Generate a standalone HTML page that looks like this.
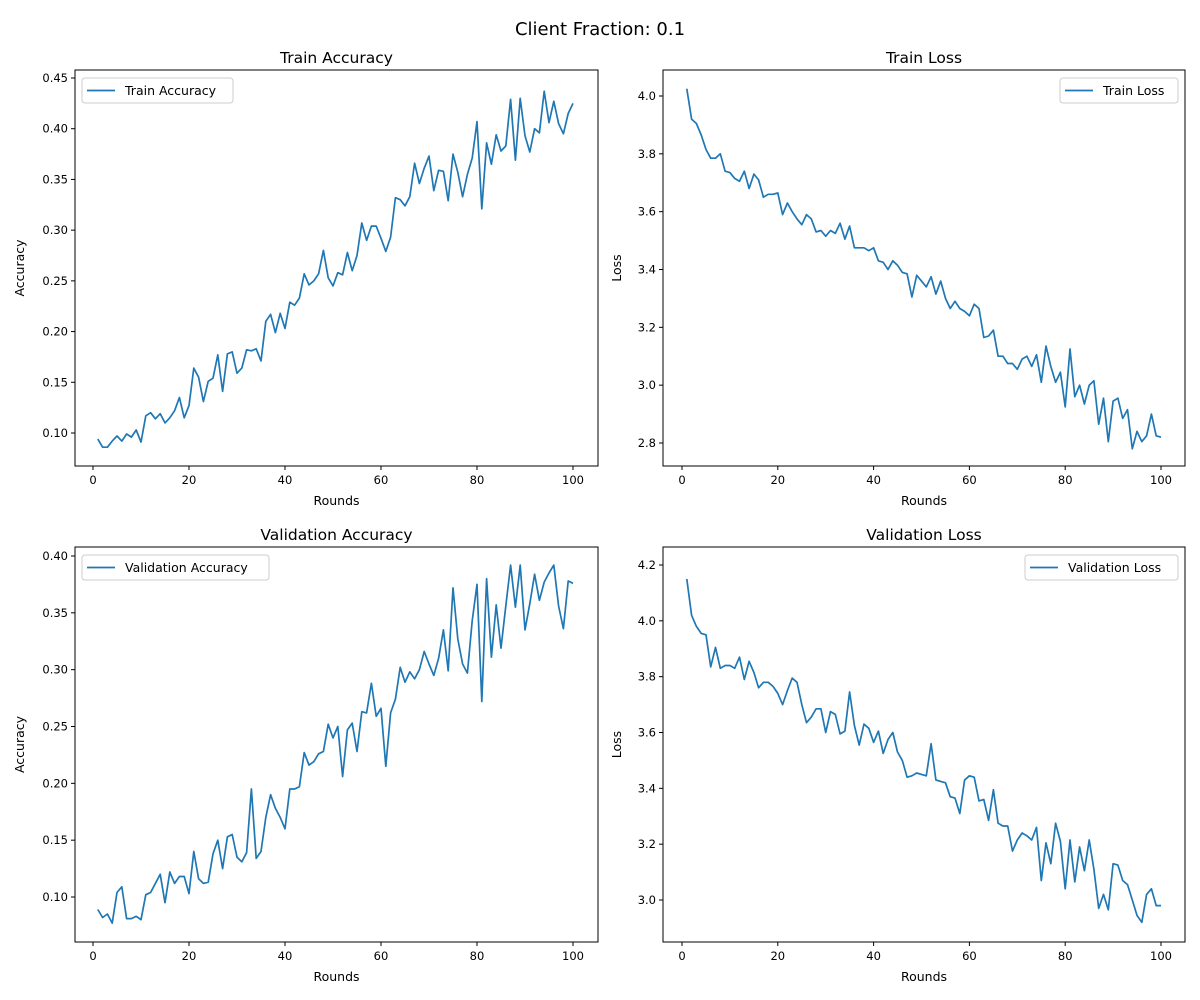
<!DOCTYPE html>
<html><head><meta charset="utf-8"><style>body{margin:0;background:#fff}svg{display:block;font-family:"DejaVu Sans","Liberation Sans",sans-serif}</style></head>
<body>
<svg id="fig" width="1200" height="1000" viewBox="0 0 1200 1000" xmlns="http://www.w3.org/2000/svg">
<rect width="1200" height="1000" fill="#fff"/>
<text x="600" y="35" font-size="18" text-anchor="middle">Client Fraction: 0.1</text>
</svg>
<script>
const rounds = Array.from({length:100},(_, i)=>i+1);
const trainAcc = [.094,.086,.086,.092,.097,.092,.099,.096,.103,.091,.117,.120,.114,.119,.110,.115,.122,.135,.115,.127,.164,.155,.131,.151,.154,.177,.141,.178,.180,.159,.164,.182,.181,.183,.171,.210,.217,.199,.218,.203,.229,.226,.233,.257,.246,.250,.257,.280,.253,.245,.258,.256,.278,.260,.275,.307,.290,.304,.304,.292,.279,.293,.332,.330,.324,.333,.366,.346,.361,.373,.339,.359,.358,.329,.375,.357,.333,.355,.371,.407,.321,.386,.365,.394,.378,.383,.429,.369,.430,.393,.377,.400,.396,.437,.406,.427,.405,.395,.415,.425];
const trainLoss = [4.025,3.92,3.905,3.865,3.815,3.785,3.785,3.80,3.74,3.735,3.715,3.705,3.74,3.68,3.73,3.71,3.65,3.66,3.66,3.665,3.59,3.63,3.60,3.575,3.555,3.59,3.575,3.53,3.535,3.515,3.535,3.525,3.56,3.505,3.55,3.475,3.475,3.475,3.465,3.475,3.43,3.425,3.40,3.43,3.415,3.39,3.385,3.305,3.38,3.36,3.34,3.375,3.315,3.36,3.30,3.265,3.29,3.265,3.255,3.24,3.28,3.265,3.165,3.17,3.19,3.10,3.10,3.075,3.075,3.055,3.09,3.10,3.065,3.105,3.01,3.135,3.065,3.01,3.045,2.925,3.125,2.96,3.00,2.935,3.00,3.015,2.865,2.955,2.805,2.945,2.955,2.885,2.915,2.78,2.84,2.805,2.825,2.90,2.825,2.82];
const valAcc = [.089,.082,.085,.077,.104,.109,.081,.081,.083,.080,.102,.104,.112,.120,.095,.122,.112,.118,.118,.103,.140,.116,.112,.113,.138,.150,.125,.153,.155,.135,.131,.139,.195,.134,.140,.170,.190,.178,.170,.160,.195,.195,.197,.227,.216,.219,.226,.228,.252,.240,.250,.206,.247,.253,.228,.263,.262,.288,.259,.266,.215,.262,.274,.302,.289,.298,.292,.300,.316,.305,.295,.310,.335,.299,.372,.327,.305,.297,.343,.375,.272,.380,.311,.357,.319,.356,.392,.355,.392,.335,.358,.384,.361,.377,.385,.392,.356,.336,.378,.376];
const valLoss = [4.15,4.02,3.98,3.955,3.95,3.835,3.905,3.83,3.84,3.84,3.83,3.87,3.79,3.855,3.815,3.76,3.78,3.78,3.765,3.74,3.70,3.75,3.795,3.78,3.70,3.635,3.655,3.685,3.685,3.60,3.675,3.665,3.595,3.605,3.745,3.625,3.555,3.63,3.615,3.565,3.605,3.525,3.575,3.60,3.53,3.50,3.44,3.445,3.455,3.45,3.445,3.56,3.43,3.425,3.42,3.37,3.365,3.31,3.43,3.445,3.44,3.355,3.36,3.285,3.395,3.275,3.265,3.265,3.175,3.215,3.24,3.23,3.215,3.26,3.07,3.205,3.13,3.275,3.21,3.04,3.215,3.065,3.19,3.105,3.215,3.11,2.97,3.02,2.965,3.13,3.125,3.07,3.055,3.0,2.945,2.92,3.02,3.04,2.98,2.98];
const xTicks = [0,20,40,60,80,100];
const accTicksTrain = [0.10,0.15,0.20,0.25,0.30,0.35,0.40,0.45];
const lossTicksTrain = [2.8,3.0,3.2,3.4,3.6,3.8,4.0];
const accTicksVal = [0.10,0.15,0.20,0.25,0.30,0.35,0.40];
const lossTicksVal = [3.0,3.2,3.4,3.6,3.8,4.0,4.2];

const NS="http://www.w3.org/2000/svg";
const svg=document.getElementById('fig');
function mk(tag,attrs,parent){const e=document.createElementNS(NS,tag);for(const k in attrs)e.setAttribute(k,attrs[k]);(parent||svg).appendChild(e);return e;}

function panel(o){
  const g=mk('g',{});
  
  
  const X=r=>o.x0+(r-0)*(o.x100-o.x0)/100;
  const Y=v=>o.ya+(v-o.va)*(o.yb-o.ya)/(o.vb-o.va);
  xTicks.forEach(t=>{
    const x=X(t);
    mk('line',{x1:x,x2:x,y1:o.b,y2:o.b+4,stroke:'#000','stroke-width':1},g);
    const tx=mk('text',{x:x,y:o.b+18,'font-size':11.5,'text-anchor':'middle'},g);
    
    
    tx.textContent=t;
  });
  o.yt.forEach(t=>{
    const y=Y(t);
    mk('line',{x1:o.l-4,x2:o.l,y1:y,y2:y,stroke:'#000','stroke-width':1},g);
    const tx=mk('text',{x:o.l-7,y:y+4,'font-size':11.5,'text-anchor':'end'},g);
    
    
    tx.textContent=t.toFixed(o.dec);
  });
  const pts=o.data.map((v,i)=>X(rounds[i]).toFixed(1)+','+Y(v).toFixed(1)).join(' ');
  const pl=mk('polyline',{points:pts,fill:'none',stroke:'#1f77b4','stroke-width':1.7,'stroke-linejoin':'round'},g);
  
  
  mk('rect',{x:o.l,y:o.t,width:o.r-o.l,height:o.b-o.t,fill:'none',stroke:'#000','stroke-width':1},g);
  const ti=mk('text',{x:(o.l+o.r)/2,y:o.t-7,'font-size':15.5,'text-anchor':'middle'},g);
  
  
  ti.textContent=o.title;
  const xl=mk('text',{x:(o.l+o.r)/2,y:o.b+39,'font-size':12.5,'text-anchor':'middle'},g);
  
  
  xl.textContent='Rounds';
  const yx=o.l-(o.dec===2?51:42), yc=(o.t+o.b)/2;
  const yl=mk('text',{x:yx,y:yc,'font-size':12.5,'text-anchor':'middle',transform:`rotate(-90 ${yx} ${yc})`},g);
  
  
  yl.textContent=o.ylab;
  const lg=mk('g',{},g);
  
  
  mk('rect',{x:o.lx,y:o.t+8,width:o.lw,height:25,rx:3,fill:'#fff',stroke:'#ccc','stroke-width':1},lg);
  mk('line',{x1:o.lx+5,x2:o.lx+33,y1:o.t+20.5,y2:o.t+20.5,stroke:'#1f77b4','stroke-width':1.7},lg);
  const lt=mk('text',{x:o.lx+43,y:o.t+25,'font-size':12.5},lg);
  
  
  lt.textContent=o.title;
}
panel({name:'train-accuracy-panel',title:'Train Accuracy',ylab:'Accuracy',data:trainAcc,yt:accTicksTrain,dec:2,l:75,r:598,t:70,b:466,x0:93,x100:573,va:0.10,ya:433,vb:0.45,yb:78,lx:82,lw:151});
panel({name:'train-loss-panel',title:'Train Loss',ylab:'Loss',data:trainLoss,yt:lossTicksTrain,dec:1,l:663,r:1185,t:70,b:466,x0:682,x100:1161,va:4.0,ya:96,vb:2.8,yb:443,lx:1060,lw:118});
panel({name:'validation-accuracy-panel',title:'Validation Accuracy',ylab:'Accuracy',data:valAcc,yt:accTicksVal,dec:2,l:75,r:598,t:547,b:942,x0:93,x100:573,va:0.10,ya:897,vb:0.40,yb:556,lx:82,lw:187});
panel({name:'validation-loss-panel',title:'Validation Loss',ylab:'Loss',data:valLoss,yt:lossTicksVal,dec:1,l:663,r:1185,t:547,b:942,x0:682,x100:1161,va:4.2,ya:565,vb:3.0,yb:900,lx:1025,lw:153});
</script>
</body></html>
